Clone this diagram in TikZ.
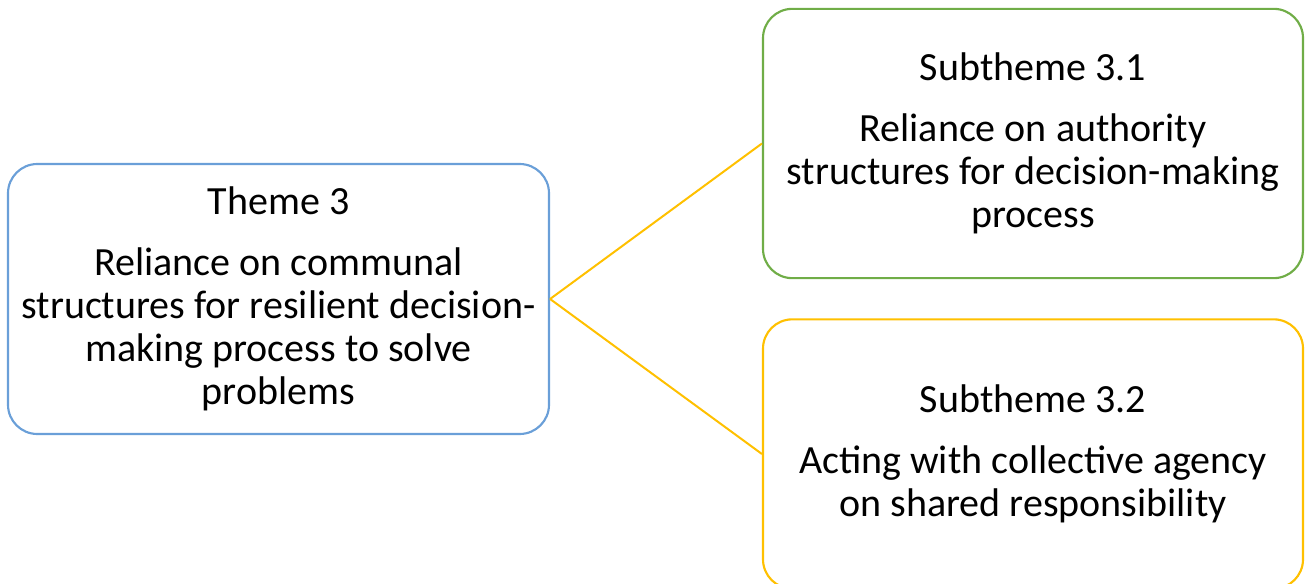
\documentclass[tikz,border=0pt]{standalone}
\usepackage{fontspec}
\setmainfont{Carlito}
\definecolor{themeblue}{HTML}{6A9FD8}
\definecolor{subgreen}{HTML}{70AD47}
\definecolor{subyellow}{HTML}{FFC000}

\begin{document}
\begin{tikzpicture}[x=0.75pt,y=-0.75pt,
  box/.style={draw,line width=1.6pt,rounded corners=22pt,fill=white,
    align=center,inner sep=0pt,
    font=\fontsize{30}{32.3}\selectfont},
  theme/.style={box,draw=themeblue,minimum width=405.75pt,minimum height=202.5pt},
  subtheme/.style={box,minimum width=405pt,minimum height=202pt},
  link/.style={draw=subyellow,line width=1.5pt}]
\clip (0,0) rectangle (1305,584);
% main theme
\node[theme] (th3) at (278.5,299) {Theme 3\\[13.5pt]
  Reliance on communal\\structures for resilient decision-\\
  making process to solve\\problems};
% subthemes
\node[subtheme,draw=subgreen] (st31) at (1033,143.5) {Subtheme 3.1\\[13.5pt]
  Reliance on authority\\structures for decision-making\\process};
\node[subtheme,draw=subyellow] (st32) at (1033,454) {Subtheme 3.2\\[13.5pt]
  Acting with collective agency\\on shared responsibility};
% links
\draw[link] (th3.east) -- (st31.west);
\draw[link] (th3.east) -- (st32.west);
\end{tikzpicture}
\end{document}
